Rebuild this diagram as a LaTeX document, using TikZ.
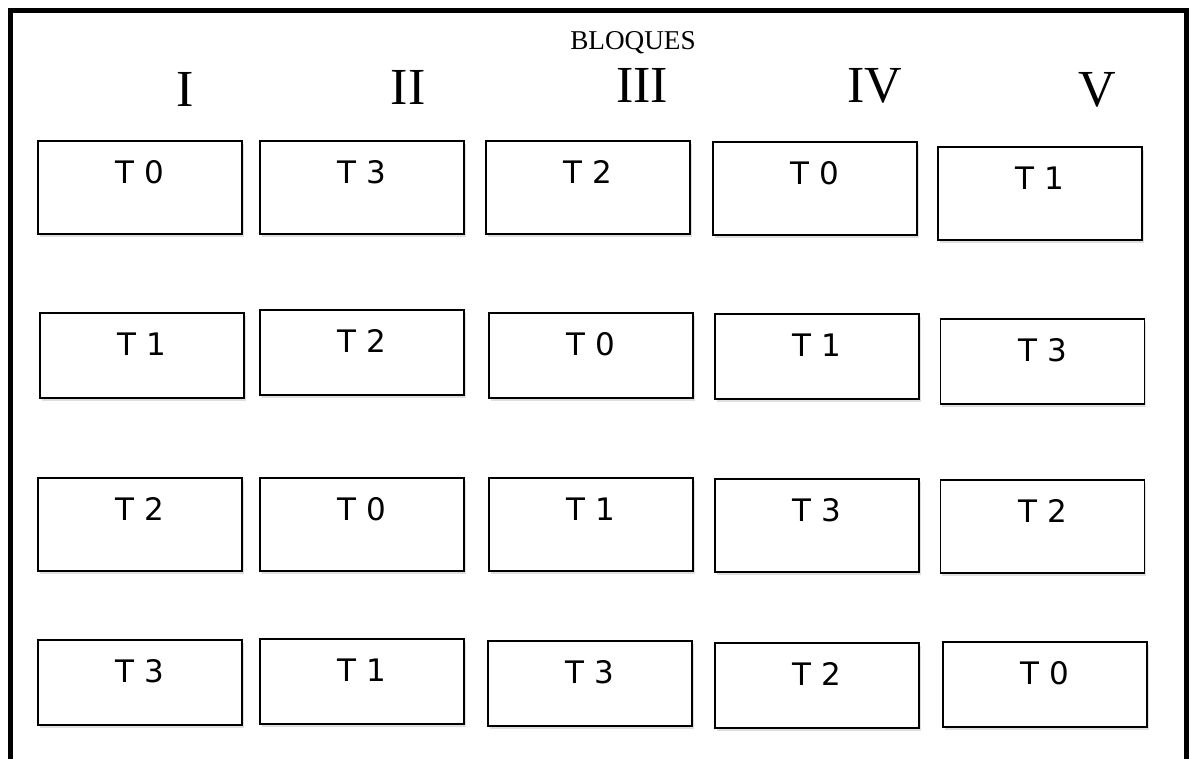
\documentclass[tikz,border=0pt]{standalone}
\usepackage{fontspec}
\setmainfont{Liberation Serif}
\newfontfamily\cajafont{DejaVu Sans}
\usepackage{tikz}
\usetikzlibrary{shadows}
\tikzset{
  marco/.style={line width=2.5pt, black},
  caja/.style={draw, line width=0.8pt, fill=white, anchor=north,
               minimum width=102pt, inner ysep=0pt,
               text height=21.5pt, text depth=#1,
               font=\cajafont\fontsize{15.5}{18}\selectfont,
               drop shadow={opacity=0.25, shadow xshift=0.8pt, shadow yshift=-1.5pt}},
  caja/.default=25pt,
  numeral/.style={anchor=base, font=\fontsize{26}{30}\selectfont},
  titulo/.style={anchor=base, font=\fontsize{13.6}{16}\selectfont}
}

\begin{document}
\begin{tikzpicture}[x=0.5pt, y=-0.5pt]
    \useasboundingbox (0,0) rectangle (1189,759);
    \draw[marco] (10.5,759) -- (10.5,10.5) -- (1186,10.5) -- (1186,759);

    \node[titulo] (bloques) at (633,50) {BLOQUES};
    \node[numeral] (n1) at (185,107) {I};
    \node[numeral] (n2) at (408,105) {II};
    \node[numeral] (n3) at (642,103) {III};
    \node[numeral] (n4) at (875,103) {IV};
    \node[numeral] (n5) at (1097,107) {V};

    % fila 1
    \node[caja] (b11) at (140,140)  {T 0};
    \node[caja] (b21) at (362,140)  {T 3};
    \node[caja] (b31) at (588,140)  {T 2};
    \node[caja] (b41) at (815,141)  {T 0};
    \node[caja] (b51) at (1040,146) {T 1};
    % fila 2
    \node[caja=21pt] (b12) at (142,312)    {T 1};
    \node[caja=21pt] (b22) at (362,309)    {T 2};
    \node[caja=21pt] (b32) at (591,312)    {T 0};
    \node[caja=21pt] (b42) at (817,313)    {T 1};
    \node[caja=21pt] (b52) at (1042.5,318) {T 3};
    % fila 3
    \node[caja] (b13) at (140,477)    {T 2};
    \node[caja] (b23) at (362,477)    {T 0};
    \node[caja] (b33) at (591,477)    {T 1};
    \node[caja] (b43) at (817,478)    {T 3};
    \node[caja] (b53) at (1042.5,479) {T 2};
    % fila 4
    \node[caja=21pt] (b14) at (140,639)  {T 3};
    \node[caja=21pt] (b24) at (362,638)  {T 1};
    \node[caja=21pt] (b34) at (590,640)  {T 3};
    \node[caja=21pt] (b44) at (817,642)  {T 2};
    \node[caja=21pt] (b54) at (1045,641) {T 0};
\end{tikzpicture}
\end{document}
